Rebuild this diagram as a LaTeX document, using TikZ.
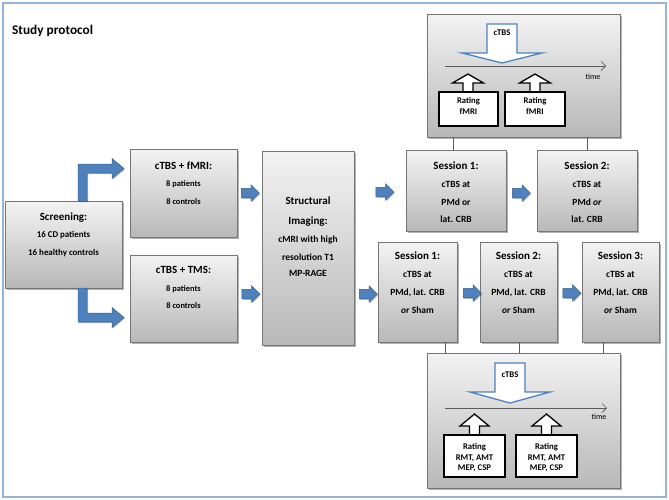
\documentclass[tikz,border=0pt]{standalone}
\usepackage{fontspec}
\setmainfont{Carlito}
\usetikzlibrary{shadows,shapes.arrows,arrows.meta}
\definecolor{boxtop}{RGB}{243,243,243}
\definecolor{boxbot}{RGB}{184,184,184}
\definecolor{boxline}{RGB}{118,118,118}
\definecolor{arrfill}{RGB}{79,129,189}
\definecolor{arrline}{RGB}{56,93,138}
\definecolor{framec}{RGB}{149,179,215}
\definecolor{linec}{RGB}{90,90,90}
\newcommand\FHd{\fontsize{11}{13}\selectfont\bfseries}
\newcommand\FBd{\fontsize{9.5}{11}\selectfont\bfseries}
\newcommand\FSm{\fontsize{8.4}{10}\selectfont\bfseries}
\newcommand\FSc{\fontsize{8.9}{10}\selectfont\bfseries}
\newcommand\FRt{\fontsize{8.7}{10}\selectfont\bfseries}
\newcommand\FTm{\fontsize{8}{9}\selectfont}
\begin{document}
\begin{tikzpicture}[x=1pt,y=-1pt,
  gbox/.style={draw=boxline, line width=0.6pt, top color=boxtop, bottom color=boxbot, inner sep=0pt,
    drop shadow={shadow xshift=1.8pt, shadow yshift=-1.8pt, fill=black, opacity=0.3}},
  hd/.style={inner sep=0pt, anchor=base, font=\FHd},
  bd/.style={inner sep=0pt, anchor=base, font=\FBd},
  sm/.style={inner sep=0pt, anchor=base, font=\FSm},
  sc/.style={inner sep=0pt, anchor=base, font=\FSc},
  rt/.style={inner sep=0pt, anchor=base, font=\FRt},
  tm/.style={inner sep=0pt, anchor=base, font=\FTm},
  barrow/.style={single arrow, fill=arrfill, draw=arrline, line width=0.5pt, inner sep=4.5pt,
    single arrow head extend=3.5pt, minimum height=18pt, minimum width=0pt,
    drop shadow={shadow xshift=1pt, shadow yshift=-1pt, fill=black, opacity=0.25}},
  elbow/.style={fill=arrfill, draw=arrline, line width=0.5pt, line join=miter,
    drop shadow={shadow xshift=1pt, shadow yshift=-1pt, fill=black, opacity=0.25}},
  ctbsarr/.style={draw=arrfill, line width=1.3pt, fill=white, line join=miter},
  uparr/.style={draw=black, line width=1.3pt, fill=white, line join=miter},
  rbox/.style={draw=black, line width=1.4pt, fill=white, inner sep=0pt},
  conn/.style={draw=linec, line width=0.6pt},
  axis/.style={draw=linec, line width=0.7pt, -{Straight Barb[length=4.5pt,width=9pt]}}
]
\useasboundingbox (0,0) rectangle (669,499);
\fill[white] (0,0) rectangle (669,499);
\draw[framec, line width=1.5pt] (3,3) rectangle (666,497);

\node[inner sep=0pt, anchor=base west, font=\fontsize{13.3}{15}\selectfont\bfseries] (title) at (12,34) {Study protocol};

% main boxes
\node[gbox, minimum width=117pt, minimum height=87pt] (screen) at (63.5,244.5) {};
\node[gbox, minimum width=107pt, minimum height=88pt] (fmri) at (183.5,193) {};
\node[gbox, minimum width=107pt, minimum height=87pt] (tms) at (183.5,298.5) {};
\node[gbox, minimum width=92pt, minimum height=194pt] (struct) at (308,248) {};
\node[gbox, minimum width=100pt, minimum height=81pt] (s1f) at (456,190.5) {};
\node[gbox, minimum width=100pt, minimum height=81pt] (s2f) at (587,190.5) {};
\node[gbox, minimum width=79pt, minimum height=100pt] (s1t) at (417.5,292) {};
\node[gbox, minimum width=77pt, minimum height=100pt] (s2t) at (518.5,292) {};
\node[gbox, minimum width=77pt, minimum height=100pt] (s3t) at (620.5,292) {};
\node[gbox, minimum width=193pt, minimum height=123pt] (topbox) at (523.5,75.5) {};
\node[gbox, minimum width=193pt, minimum height=135pt] (botbox) at (523.5,420.5) {};

% texts
\node[hd] (screenH) at (63.5,220.5) {Screening:};
\node[sc] (screenA) at (63.5,237) {16 CD patients};
\node[sc] (screenB) at (63.5,255) {16 healthy controls};

\node[hd] (fmriH) at (183.5,169.5) {cTBS + fMRI:};
\node[sm] (fmriA) at (183.5,186) {8 patients};
\node[sm] (fmriB) at (183.5,204) {8 controls};

\node[hd] (tmsH) at (183.5,273.5) {cTBS + TMS:};
\node[sm] (tmsA) at (183.5,291) {8 patients};
\node[sm] (tmsB) at (183.5,308) {8 controls};

\node[hd] (structH) at (308,204.5) {Structural};
\node[hd] (structI) at (308,224.5) {Imaging:};
\node[bd] (structA) at (308,242) {cMRI with high};
\node[bd] (structB) at (308,260) {resolution T1};
\node[bd] (structC) at (308,276) {MP-RAGE};

\node[hd] (s1fH) at (456,169.5) {Session 1:};
\node[bd] (s1fA) at (456,187) {cTBS at};
\node[bd] (s1fB) at (456,205) {PMd or};
\node[bd] (s1fC) at (456,222) {lat. CRB};

\node[hd] (s2fH) at (587,169.5) {Session 2:};
\node[bd] (s2fA) at (587,187) {cTBS at};
\node[bd] (s2fB) at (587,205) {PMd \textit{or}};
\node[bd] (s2fC) at (587,222) {lat. CRB};

\node[hd] (s1tH) at (417.5,259.5) {Session 1:};
\node[bd] (s1tA) at (417.5,277) {cTBS at};
\node[bd] (s1tB) at (417.5,295) {PMd, lat. CRB};
\node[bd] (s1tC) at (417.5,313) {\textit{or} Sham};

\node[hd] (s2tH) at (518.5,259.5) {Session 2:};
\node[bd] (s2tA) at (518.5,277) {cTBS at};
\node[bd] (s2tB) at (518.5,295) {PMd, lat. CRB};
\node[bd] (s2tC) at (518.5,313) {\textit{or} Sham};

\node[hd] (s3tH) at (620.5,259.5) {Session 3:};
\node[bd] (s3tA) at (620.5,277) {cTBS at};
\node[bd] (s3tB) at (620.5,295) {PMd, lat. CRB};
\node[bd] (s3tC) at (620.5,313) {\textit{or} Sham};

% block arrows
\node[barrow] (a1) at (248,193) {};
\node[barrow] (a2) at (248.5,294) {};
\node[barrow] (a3) at (382.5,192) {};
\node[barrow] (a4) at (366,294) {};
\node[barrow] (a5) at (519,193) {};
\node[barrow] (a6) at (470,293) {};
\node[barrow] (a7) at (569.5,293) {};

% elbow arrows
\draw[elbow] (78,201) -- (78,164) -- (112,164) -- (112,158.5) -- (124,168.5) -- (112,178.5) -- (112,173) -- (87,173) -- (87,201) -- cycle;
\draw[elbow] (78,288) -- (78,322) -- (112,322) -- (112,327.5) -- (124,317.5) -- (112,307.5) -- (112,313) -- (87,313) -- (87,288) -- cycle;

% connectors
\coordinate (t1) at (453,0);
\coordinate (t2) at (587,0);
\draw[conn] (t1 |- topbox.south) -- (t1 |- s1f.north);
\draw[conn] (t2 |- topbox.south) -- (t2 |- s2f.north);
\coordinate (b1) at (445,0);
\coordinate (b2) at (519,0);
\coordinate (b3) at (603,0);
\draw[conn] (b1 |- s1t.south) -- (b1 |- botbox.north);
\draw[conn] (b2 |- s2t.south) -- (b2 |- botbox.north);
\draw[conn] (b3 |- s3t.south) -- (b3 |- botbox.north);

% top timeline
\draw[ctbsarr] (487,24) -- (517,24) -- (517,53) -- (542,53) -- (502,63) -- (462,53) -- (487,53) -- cycle;
\node[rt] (ctbsT) at (502,35) {cTBS};
\coordinate (ax1s) at (445,66);
\coordinate (ax1e) at (606,66);
\draw[axis] (ax1s) -- (ax1e);
\node[tm] (time1) at (593,79.5) {time};
\draw[uparr] (463,92) -- (463,83) -- (452.5,83) -- (468,74) -- (483.5,83) -- (473,83) -- (473,92) -- cycle;
\draw[uparr] (530,92) -- (530,83) -- (519.5,83) -- (535,74) -- (550.5,83) -- (540,83) -- (540,92) -- cycle;
\node[rbox, minimum width=59pt, minimum height=34pt] (r1) at (468.5,109) {};
\node[rbox, minimum width=60pt, minimum height=34pt] (r2) at (535,109) {};
\node[rt] (r1a) at (468.5,103) {Rating};
\node[rt] (r1b) at (468.5,114) {fMRI};
\node[rt] (r2a) at (535,103) {Rating};
\node[rt] (r2b) at (535,114) {fMRI};

% bottom timeline
\draw[ctbsarr] (495,363) -- (525,363) -- (525,392) -- (550,392) -- (510,403) -- (470,392) -- (495,392) -- cycle;
\node[rt] (ctbsB) at (510,377.5) {cTBS};
\coordinate (ax2s) at (445,408);
\coordinate (ax2e) at (607,408);
\draw[axis] (ax2s) -- (ax2e);
\node[tm] (time2) at (599,419.5) {time};
\draw[uparr] (469.5,435) -- (469.5,426) -- (460,426) -- (474.5,414) -- (489,426) -- (479.5,426) -- (479.5,435) -- cycle;
\draw[uparr] (541.5,435) -- (541.5,426) -- (532,426) -- (546.5,414) -- (561,426) -- (551.5,426) -- (551.5,435) -- cycle;
\node[rbox, minimum width=61pt, minimum height=42pt] (r3) at (474.5,456) {};
\node[rbox, minimum width=61pt, minimum height=42pt] (r4) at (546.5,456) {};
\node[rt] (r3a) at (474.5,449) {Rating};
\node[rt] (r3b) at (474.5,460) {RMT, AMT};
\node[rt] (r3c) at (474.5,470.5) {MEP, CSP};
\node[rt] (r4a) at (546.5,449) {Rating};
\node[rt] (r4b) at (546.5,460) {RMT, AMT};
\node[rt] (r4c) at (546.5,470.5) {MEP, CSP};
\end{tikzpicture}
\end{document}
